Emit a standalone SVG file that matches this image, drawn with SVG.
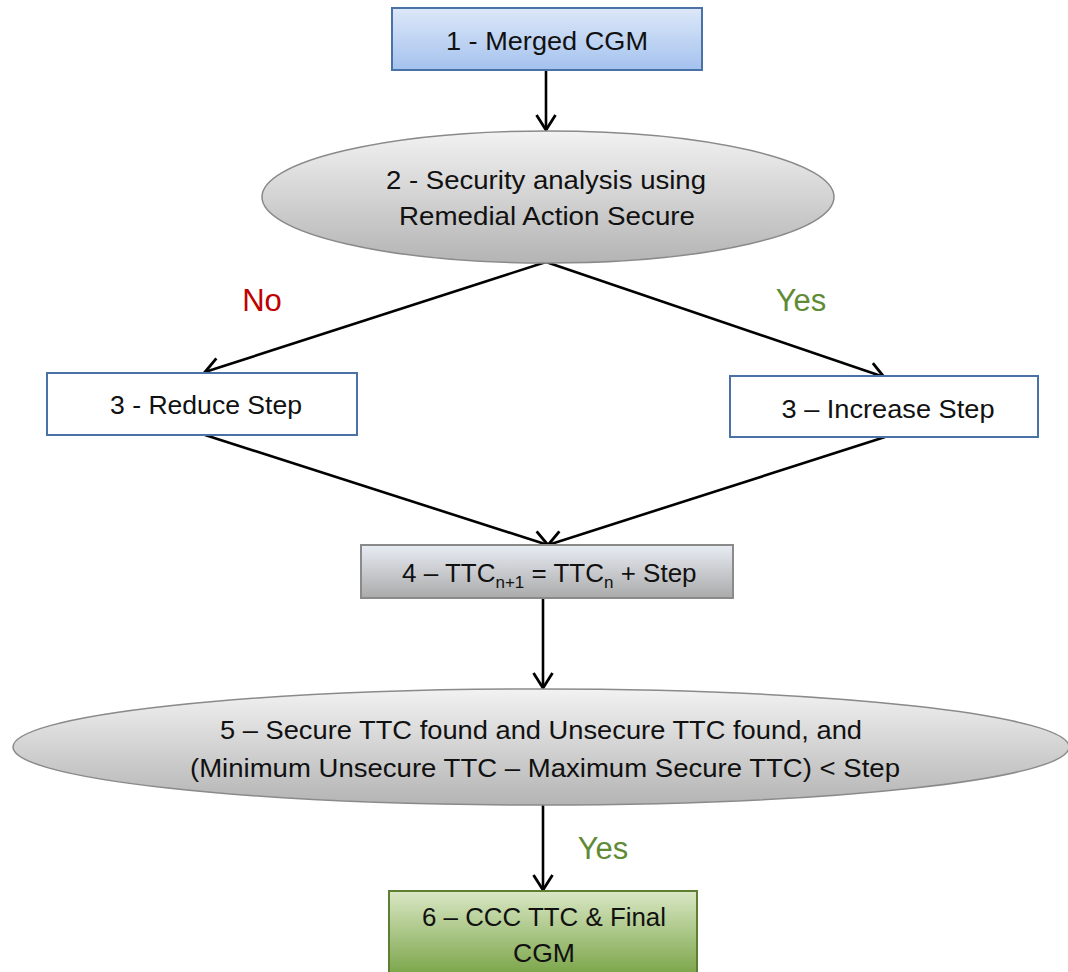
<svg xmlns="http://www.w3.org/2000/svg" width="1068" height="972" viewBox="0 0 1068 972">
<style>
text{font-family:"Liberation Sans",Arial,sans-serif;font-size:25px;fill:#111;text-anchor:middle}
.lbl{font-size:31px}
.no{fill:#c00000}
.yes{fill:#5f8b35}
.conn line{stroke:#000;stroke-width:2.6;fill:none}
</style>
<defs>
<linearGradient id="gBlue" x1="0" y1="0" x2="0" y2="1"><stop offset="0" stop-color="#dde8f8"/><stop offset="1" stop-color="#a4c2ee"/></linearGradient>
<linearGradient id="gGray" x1="0" y1="0" x2="0" y2="1"><stop offset="0" stop-color="#f2f2f2"/><stop offset="1" stop-color="#b4b4b4"/></linearGradient>
<linearGradient id="gGray4" x1="0" y1="0" x2="0" y2="1"><stop offset="0" stop-color="#e8ecf4"/><stop offset="1" stop-color="#aaaaaa"/></linearGradient>
<linearGradient id="gGreen" x1="0" y1="0" x2="0" y2="1"><stop offset="0" stop-color="#d9e7c4"/><stop offset="1" stop-color="#74a040"/></linearGradient>
<marker id="arr" viewBox="0 0 22 22" refX="20" refY="11" markerWidth="22" markerHeight="22" markerUnits="userSpaceOnUse" orient="auto">
<path d="M5,1.5 L20,11 L5,20.5" fill="none" stroke="#000" stroke-width="2.8"/>
</marker>
</defs>
<g id="connectors" class="conn">
<line x1="546" y1="70" x2="546" y2="130" marker-end="url(#arr)"/>
<line x1="546" y1="262" x2="205" y2="372" marker-end="url(#arr)"/>
<line x1="546" y1="262" x2="884" y2="377" marker-end="url(#arr)"/>
<line x1="205" y1="435" x2="548" y2="545" marker-end="url(#arr)"/>
<line x1="885" y1="437" x2="548" y2="545" marker-end="url(#arr)"/>
<line x1="543" y1="598" x2="543" y2="688" marker-end="url(#arr)"/>
<line x1="543" y1="805" x2="543" y2="890" marker-end="url(#arr)"/>
</g>
<g id="n1">
<rect x="392" y="8" width="310" height="62" fill="url(#gBlue)" stroke="#4a72a6" stroke-width="2"/>
<text x="547" y="50" textLength="202" lengthAdjust="spacingAndGlyphs">1 - Merged CGM</text>
</g>
<g id="n2">
<ellipse cx="548" cy="197" rx="286" ry="66" fill="url(#gGray)" stroke="#8a8a8a" stroke-width="1.5"/>
<text x="546" y="189" textLength="320" lengthAdjust="spacingAndGlyphs">2 - Security analysis using</text>
<text x="547" y="225" textLength="296" lengthAdjust="spacingAndGlyphs">Remedial Action Secure</text>
</g>
<g id="labels">
<text class="lbl no" x="262" y="311">No</text>
<text class="lbl yes" x="801" y="311">Yes</text>
<text class="lbl yes" x="603" y="859">Yes</text>
</g>
<g id="n3a">
<rect x="47" y="373" width="310" height="62" fill="#fff" stroke="#4a72a6" stroke-width="2"/>
<text x="206" y="414" textLength="192" lengthAdjust="spacingAndGlyphs">3 - Reduce Step</text>
</g>
<g id="n3b">
<rect x="730" y="376" width="308" height="61" fill="#fff" stroke="#4a72a6" stroke-width="2"/>
<text x="888" y="418" textLength="213" lengthAdjust="spacingAndGlyphs">3 – Increase Step</text>
</g>
<g id="n4">
<rect x="361" y="545" width="372" height="53" fill="url(#gGray4)" stroke="#8a8a8a" stroke-width="2"/>
<text x="402" y="582" style="text-anchor:start;font-size:26px">4 – TTC<tspan font-size="17" dy="6">n+1</tspan><tspan dy="-6"> = TTC</tspan><tspan font-size="17" dy="6">n</tspan><tspan dy="-6"> + Step</tspan></text>
</g>
<g id="n5">
<ellipse cx="541" cy="747" rx="528" ry="58" fill="url(#gGray)" stroke="#8a8a8a" stroke-width="1.5"/>
<text x="541" y="739" textLength="642" lengthAdjust="spacingAndGlyphs">5 – Secure TTC found and Unsecure TTC found, and</text>
<text x="545" y="777" textLength="710" lengthAdjust="spacingAndGlyphs">(Minimum Unsecure TTC – Maximum Secure TTC) &lt; Step</text>
</g>
<g id="n6">
<rect x="389" y="891" width="308" height="90" fill="url(#gGreen)" stroke="#5e7e34" stroke-width="2"/>
<text x="544" y="926" textLength="244" lengthAdjust="spacingAndGlyphs">6 – CCC TTC &amp; Final</text>
<text x="544" y="962" textLength="62" lengthAdjust="spacingAndGlyphs">CGM</text>
</g>
</svg>
